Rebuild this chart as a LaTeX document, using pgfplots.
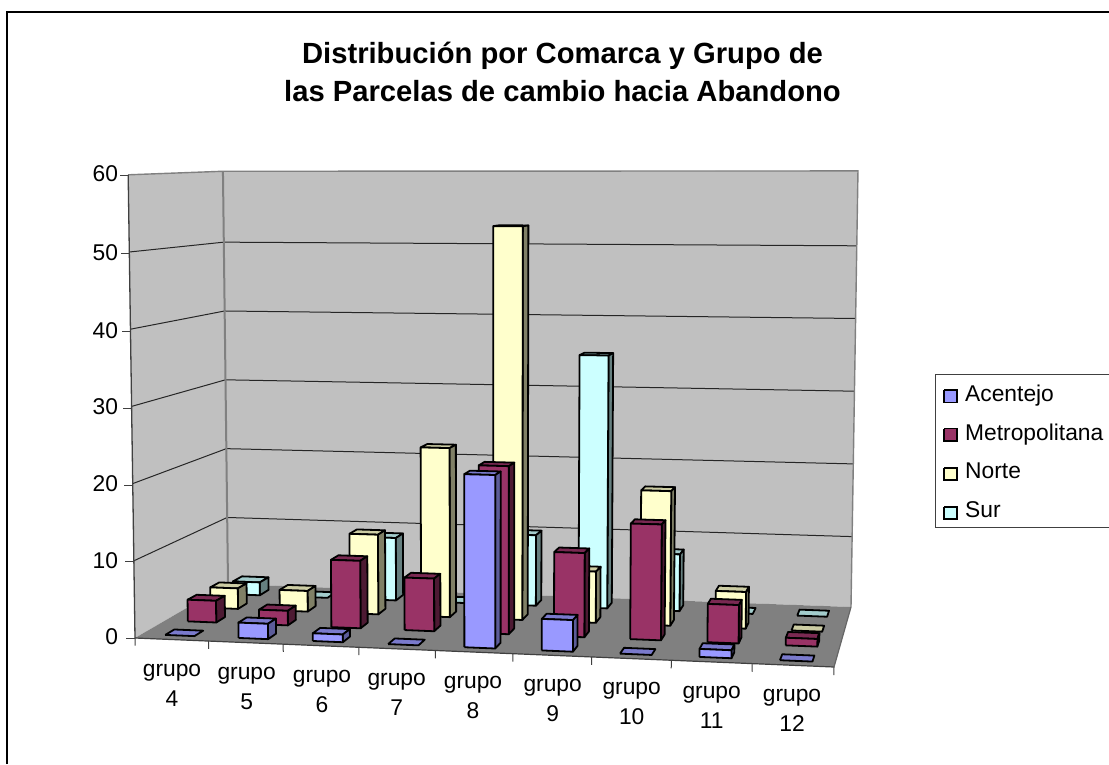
\documentclass[border=0pt]{standalone}
\usepackage{pgfplots}
\pgfplotsset{compat=1.18}
\usepackage{fontspec}
\setmainfont{Liberation Sans}
\definecolor{aF}{HTML}{9999FF}\definecolor{aT}{HTML}{7A7ACC}\definecolor{aS}{HTML}{5C5C99}
\definecolor{mF}{HTML}{993366}\definecolor{mT}{HTML}{7A2952}\definecolor{mS}{HTML}{4D1A33}
\definecolor{nF}{HTML}{FFFFCC}\definecolor{nT}{HTML}{CCCCA3}\definecolor{nS}{HTML}{808066}
\definecolor{sF}{HTML}{CCFFFF}\definecolor{sT}{HTML}{A3CCCC}\definecolor{sS}{HTML}{668080}
\definecolor{wall}{HTML}{C0C0C0}\definecolor{floorc}{HTML}{808080}
% perspective of the Excel 3-D chart: u = category position, v = depth, #3 = value
\newcommand\PP[4]{%
 \pgfmathsetmacro\ff{73.14*#1/(1-0.00648*#1)/699}%
 \pgfmathsetmacro\xz{(135+699*\ff)+(93-76*\ff)*#2}%
 \pgfmathsetmacro\yz{(638+29*\ff)+(-54-6*\ff)*#2}%
 \pgfmathsetmacro\ssc{(7.72+.47*\ff)+(-.837-.083*\ff)*#2}%
 \pgfmathsetmacro\pxx{\xz+(\xz-490)*0.000325*#3}%
 \pgfmathsetmacro\pyy{\yz-\ssc*#3+2.3*#2*min(1,#3/3)}%
 \expandafter\edef\csname #4\endcsname{(\pxx,\pyy)}}
\newcommand\Poly[2]{\edef\tmp{\noexpand\addplot[forget plot,mark=none,#1] coordinates {#2};}\tmp}
% bar: category index (0 = grupo 4), row (0 = Acentejo), value, colour prefix
\newcommand\Bar[4]{%
 \pgfmathsetmacro\ul{#1+0.32}\pgfmathsetmacro\ur{#1+0.72}%
 \pgfmathsetmacro\vf{0.075+0.25*#2}\pgfmathsetmacro\vb{0.175+0.25*#2}%
 \PP\ul\vf{0}{A}\PP\ur\vf{0}{B}\PP\ur\vb{0}{C}%
 \PP\ul\vf{#3}{D}\PP\ur\vf{#3}{E}\PP\ur\vb{#3}{F}\PP\ul\vb{#3}{G}%
 \Poly{draw=black,line width=1.8pt,line join=round,fill=#4T}{\D\E\F\G\D}%
 \pgfmathparse{#3>0?1:0}\ifdim\pgfmathresult pt>0.5pt
 \Poly{draw=black,line width=1.8pt,line join=round,fill=#4S}{\B\C\F\E\B}%
 \Poly{draw=black,line width=1.8pt,line join=round,fill=#4F}{\A\B\E\D\A}%
 \fi}
\begin{document}
\begin{tikzpicture}[x=1pt,y=1pt]
\useasboundingbox (0,0) rectangle (1109,764);
\begin{axis}[
 at={(0,0)},anchor=south west,scale only axis,width=1109pt,height=764pt,
 xmin=0,xmax=1109,ymin=0,ymax=764,y dir=reverse,hide axis,clip=false,
]
% chart frame
\addplot[forget plot,mark=none,draw=black,line width=2pt] coordinates {(7,764)(7,12)(1109,12)};
% walls and floor
\PP{0}{0}{0}{A}\PP{0}{1}{0}{B}\PP{9}{1}{0}{C}\PP{9}{0}{0}{D}
\PP{0}{0}{60}{E}\PP{0}{1}{60.3}{F}\PP{9}{1}{60.3}{G}
\Poly{draw=none,fill=wall}{\A\E\F\B\A}
\Poly{draw=none,fill=wall}{\B\F\G\C\B}
\Poly{draw=none,fill=floorc}{\A\B\C\D\A}
% gridlines
\foreach \h in {10,20,30,40,50}{%
 \PP{0}{0}{\h}{K}\PP{0}{1}{\h}{L}\PP{9}{1}{\h}{M}%
 \Poly{draw=black!85,line width=1pt}{\K\L\M}%
}
\PP{0}{0}{0}{A}\PP{0}{1}{0}{B}\PP{9}{1}{0}{C}\PP{9}{0}{0}{D}
\PP{0}{0}{60}{E}\PP{0}{1}{60.3}{F}\PP{9}{1}{60.3}{G}
\Poly{draw=floorc,line width=1.4pt}{\E\F\G\C}
\Poly{draw=floorc,line width=2pt}{\F\B}
\Poly{draw=black!75,line width=1.3pt}{\E\A}
\Poly{draw=black!75,line width=1.2pt}{\A\D}
\Poly{draw=black!60,line width=1.2pt}{\D\C}
% y ticks
\addplot[forget plot,mark=none,draw=black!75,line width=1pt] coordinates {(126,638)(135,638)};
\addplot[forget plot,mark=none,draw=black!75,line width=1pt] coordinates {(125,561)(133.7,561)};
\addplot[forget plot,mark=none,draw=black!75,line width=1pt] coordinates {(124,485)(132.4,485)};
\addplot[forget plot,mark=none,draw=black!75,line width=1pt] coordinates {(123,408)(131.1,408)};
\addplot[forget plot,mark=none,draw=black!75,line width=1pt] coordinates {(122,331)(129.8,331)};
\addplot[forget plot,mark=none,draw=black!75,line width=1pt] coordinates {(121,253)(128.6,253)};
\addplot[forget plot,mark=none,draw=black!75,line width=1pt] coordinates {(120,175)(128,175)};
% x ticks
\foreach \u in {0,...,9}{%
 \PP{\u}{0}{0}{K}\PP{\u}{0}{-1}{L}%
 \Poly{draw=black!75,line width=1pt}{\K\L}%
}
% bars, from the back row to the front row
% Sur
\Bar{0}{3}{2}{s}\Bar{1}{3}{0}{s}\Bar{2}{3}{9}{s}\Bar{3}{3}{0}{s}\Bar{4}{3}{10}{s}\Bar{5}{3}{35}{s}\Bar{6}{3}{8}{s}\Bar{7}{3}{0}{s}\Bar{8}{3}{0}{s}
% Norte
\Bar{0}{2}{3}{n}\Bar{1}{2}{3}{n}\Bar{2}{2}{11}{n}\Bar{3}{2}{23}{n}\Bar{4}{2}{53}{n}\Bar{5}{2}{7}{n}\Bar{6}{2}{18}{n}\Bar{7}{2}{5}{n}\Bar{8}{2}{0}{n}
% Metropolitana
\Bar{0}{1}{3}{m}\Bar{1}{1}{2}{m}\Bar{2}{1}{9}{m}\Bar{3}{1}{7}{m}\Bar{4}{1}{22}{m}\Bar{5}{1}{11}{m}\Bar{6}{1}{15}{m}\Bar{7}{1}{5}{m}\Bar{8}{1}{1}{m}
% Acentejo
\Bar{0}{0}{0}{a}\Bar{1}{0}{2}{a}\Bar{2}{0}{1}{a}\Bar{3}{0}{0}{a}\Bar{4}{0}{22}{a}\Bar{5}{0}{4}{a}\Bar{6}{0}{0}{a}\Bar{7}{0}{1}{a}\Bar{8}{0}{0}{a}
% legend
\addplot[forget plot,mark=none,draw=black!75,line width=1pt] coordinates {(1109,374.7)(935,374.7)(935,527.7)(1109,527.7)};
\addplot[forget plot,mark=none,draw=black,line width=1.6pt,fill=aF] coordinates {(944,390)(957,390)(957,402.5)(944,402.5)(944,390)};
\addplot[forget plot,mark=none,draw=black,line width=1.6pt,fill=mF] coordinates {(944,428.5)(957,428.5)(957,441)(944,441)(944,428.5)};
\addplot[forget plot,mark=none,draw=black,line width=1.6pt,fill=nF] coordinates {(944,468)(957,468)(957,480)(944,480)(944,468)};
\addplot[forget plot,mark=none,draw=black,line width=1.6pt,fill=sF] coordinates {(944,507)(957,507)(957,519)(944,519)(944,507)};
\node[anchor=base west,inner sep=0pt,font=\fontsize{22.8}{26}\selectfont] at (axis cs:965,401.7) {Acentejo};
\node[anchor=base west,inner sep=0pt,font=\fontsize{22.8}{26}\selectfont] at (axis cs:965,440) {Metropolitana};
\node[anchor=base west,inner sep=0pt,font=\fontsize{22.8}{26}\selectfont] at (axis cs:965,478) {Norte};
\node[anchor=base west,inner sep=0pt,font=\fontsize{22.8}{26}\selectfont] at (axis cs:965,517) {Sur};
% title
\node[align=center,font=\fontsize{29.2}{38}\bfseries\selectfont] at (axis cs:562.5,72) {Distribución por Comarca y Grupo de\\las Parcelas de cambio hacia Abandono};
% y labels
\foreach \lab/\yy in {0/637,10/561,20/484,30/407,40/331,50/253,60/174}{
 \edef\tmp{\noexpand\node[anchor=east,font=\noexpand\fontsize{22.8}{26}\noexpand\selectfont] at (axis cs:121.5,\yy) {\lab};}\tmp}
% x labels
\foreach \lab/\xx/\yy in {4/172/685,5/246.7/688,6/322/691,7/396.7/694,8/473/697,9/552.7/700,10/631.7/703,11/711.7/707,12/792/710}{
 \edef\tmp{\noexpand\node[align=center,font=\noexpand\fontsize{22.8}{30}\noexpand\selectfont] at (axis cs:\xx,\yy) {grupo\noexpand\\\lab};}\tmp}
\end{axis}
\end{tikzpicture}
\end{document}
